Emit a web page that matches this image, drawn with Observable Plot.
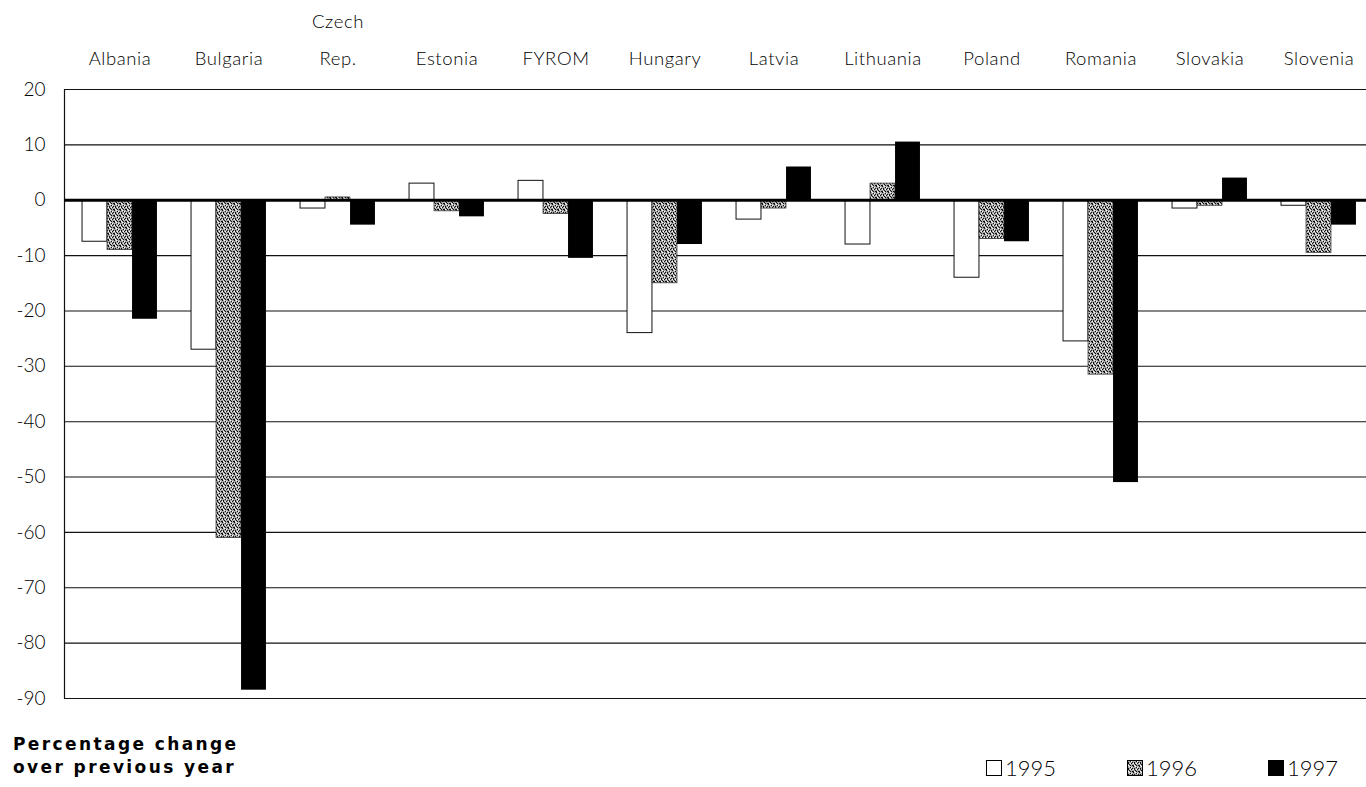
<!DOCTYPE html>
<html>
<head>
<meta charset="utf-8">
<script src="https://cdn.jsdelivr.net/npm/d3@7"></script>
<script src="https://cdn.jsdelivr.net/npm/@observablehq/plot@0.6"></script>
<style>
  html, body { margin: 0; padding: 0; background: #fff; }
  body { width: 1366px; height: 787px; position: relative; overflow: hidden; font-family: Lato, "DejaVu Sans", sans-serif; }
  #chart { position: absolute; left: 0; top: 0; }
  #caption { position: absolute; left: 13px; top: 733px; font-family: "DejaVu Sans", sans-serif; font-weight: bold; font-size: 17px; line-height: 23px; letter-spacing: 2.4px; color: #000; }
  #legend { position: absolute; top: 754px; left: 0; width: 1366px; height: 30px; font-size: 22px; font-weight: 300; color: #000; }
  .item { position: absolute; display: flex; align-items: center; }
  .xaxis text { letter-spacing: 0.6px; }
</style>
</head>
<body>
<div id="chart"></div>
<div id="caption">Percentage change<br>over previous year</div>
<div id="legend"></div>
<script>
const countries = ["Albania", "Bulgaria", "Czech Rep.", "Estonia", "FYROM", "Hungary", "Latvia", "Lithuania", "Poland", "Romania", "Slovakia", "Slovenia"];
const countryLabels = ["Albania", "Bulgaria", "Czech\nRep.", "Estonia", "FYROM", "Hungary", "Latvia", "Lithuania", "Poland", "Romania", "Slovakia", "Slovenia"];
const years = ["1995", "1996", "1997"];
const v1995 = [-7.5, -27, -1.5, 3, 3.5, -24, -3.5, -8, -14, -25.5, -1.5, -1];
const v1996 = [-9, -61, 0.5, -2, -2.5, -15, -1.5, 3, -7, -31.5, -1, -9.5];
const v1997 = [-21.5, -88.5, -4.5, -3, -10.5, -8, 6, 10.5, -7.5, -51, 4, -4.5];
const yTicks = [20, 10, 0, -10, -20, -30, -40, -50, -60, -70, -80, -90];

const rows = countries.map((c, i) => ({country: c, v1995: v1995[i], v1996: v1996[i], v1997: v1997[i]}));

const barW = 25;
const bandStep = (1373 - 64) / countries.length;
const inset = (bandStep - barW) / 2;

const chart = Plot.plot({
  width: 1366,
  height: 715,
  marginLeft: 64,
  marginRight: 0,
  marginTop: 89,
  marginBottom: 17,
  style: {fontFamily: "Lato, 'DejaVu Sans', sans-serif", fontWeight: 300, background: "white", color: "black"},
  x: {domain: countries, range: [64, 1373], padding: 0, axis: null},
  y: {domain: [-90, 20], axis: null},
  marks: [
    Plot.ruleY(yTicks, {stroke: "#111", strokeWidth: 1.1}),
    Plot.frame({anchor: "left", stroke: "#111", strokeWidth: 1.2}),
    Plot.barY(rows, {x: "country", y1: 0, y2: "v1995", fill: "white", stroke: "#111", strokeWidth: 1, insetLeft: inset, insetRight: inset, dx: -barW}),
    Plot.barY(rows, {x: "country", y1: 0, y2: "v1996", fill: "url(#speckle)", stroke: "#333", strokeWidth: 0.8, insetLeft: inset, insetRight: inset}),
    Plot.barY(rows, {x: "country", y1: 0, y2: "v1997", fill: "black", insetLeft: inset, insetRight: inset, dx: barW}),
    Plot.ruleY([0], {stroke: "black", strokeWidth: 3}),
    Plot.axisY(yTicks, {tickSize: 0, tickPadding: 19, fontSize: 19, label: null, tickFormat: d => String(d)}),
    Plot.axisX({anchor: "top", tickSize: 0, tickPadding: 25, fontSize: 18.5, lineHeight: 1.95, label: null, className: "xaxis", tickFormat: d => countryLabels[countries.indexOf(d)]})
  ]
});

// speckled texture for the 1996 bars
const ns = "http://www.w3.org/2000/svg";
const defs = document.createElementNS(ns, "defs");
const pat = document.createElementNS(ns, "pattern");
pat.setAttribute("id", "speckle");
pat.setAttribute("patternUnits", "userSpaceOnUse");
pat.setAttribute("width", 6);
pat.setAttribute("height", 6);
const bg = document.createElementNS(ns, "rect");
bg.setAttribute("width", 6); bg.setAttribute("height", 6); bg.setAttribute("fill", "#a9a9a9");
pat.appendChild(bg);
const dots = [[0,0],[3,1],[1,2],[5,2],[4,3],[2,4],[5,5],[0,5],[3,5],[1,3]];
for (const [px, py] of dots) {
  const r = document.createElementNS(ns, "rect");
  r.setAttribute("x", px); r.setAttribute("y", py);
  r.setAttribute("width", 1); r.setAttribute("height", 1);
  r.setAttribute("fill", "#111");
  pat.appendChild(r);
}
const lights = [[2,0],[4,1],[0,3],[3,3],[1,5]];
for (const [px, py] of lights) {
  const r = document.createElementNS(ns, "rect");
  r.setAttribute("x", px); r.setAttribute("y", py);
  r.setAttribute("width", 1); r.setAttribute("height", 1);
  r.setAttribute("fill", "#fff");
  pat.appendChild(r);
}
defs.appendChild(pat);
chart.insertBefore(defs, chart.firstChild);
document.getElementById("chart").appendChild(chart);

// legend
const legendFills = {"1995": "white", "1996": "url(#speckle)", "1997": "black"};
const legendX = [986, 1127, 1268];
const legend = document.getElementById("legend");
years.forEach((yr, i) => {
  const item = document.createElement("div");
  item.className = "item";
  item.style.left = legendX[i] + "px";
  const sw = document.createElementNS(ns, "svg");
  sw.setAttribute("width", 16); sw.setAttribute("height", 16);
  sw.style.marginRight = "3px";
  const r = document.createElementNS(ns, "rect");
  r.setAttribute("x", 0.5); r.setAttribute("y", 0.5); r.setAttribute("width", 15); r.setAttribute("height", 15);
  r.setAttribute("fill", legendFills[yr]); r.setAttribute("stroke", "#000");
  sw.appendChild(r);
  item.appendChild(sw);
  const t = document.createElement("span");
  t.textContent = yr;
  item.appendChild(t);
  legend.appendChild(item);
});
</script>
</body>
</html>
